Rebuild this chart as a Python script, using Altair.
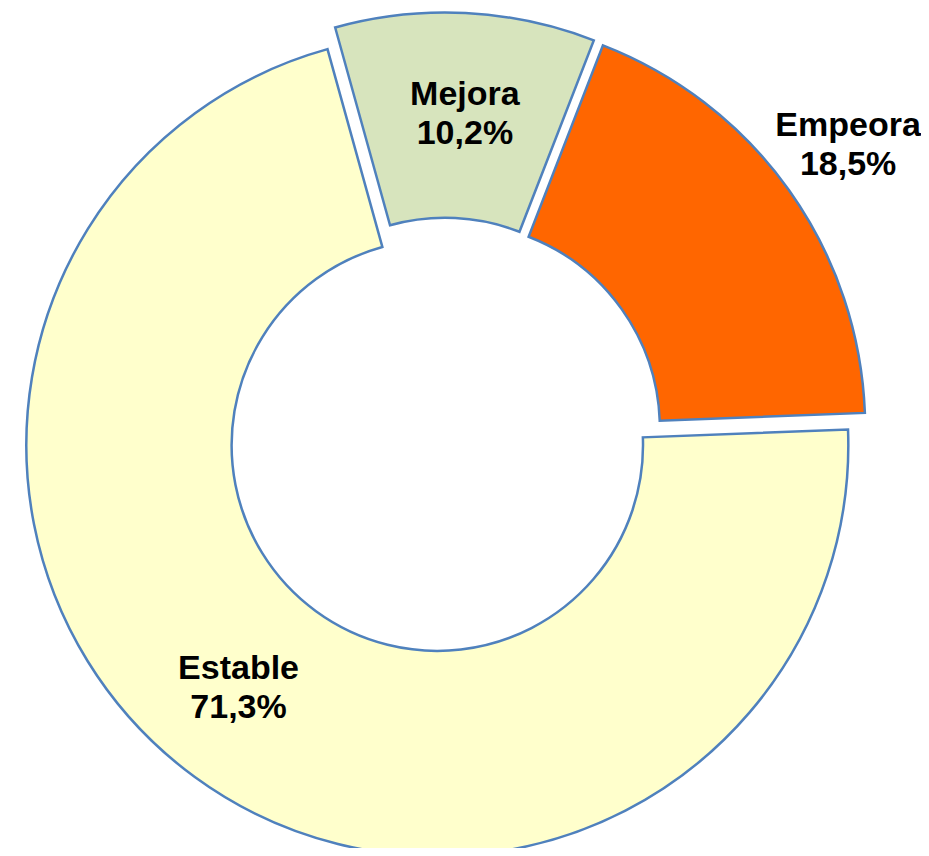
import math
import altair as alt
import pandas as pd

# ---- data ----
categories = ["Mejora", "Empeora", "Estable"]
values = [10.2, 18.5, 71.3]
order = [0, 1, 2]
colors = ["#D7E4BD", "#FF6600", "#FFFFCC"]

df = pd.DataFrame({"category": categories, "value": values, "order": order})

# ---- style / layout ----
W, H = 913, 840
CX, CY = 436.4, 427.5          # donut centre (chart px)
R_OUT, R_IN = 411, 205.7
EXPLODE = 12
START_DEG = -15.5
start_rad = math.radians(START_DEG) + 2 * math.pi
theta_scale = alt.Scale(domain=[0, 100], range=[start_rad, start_rad + 2 * math.pi])
# label placement: radius from centre, plus small nudges
label_style = {
    "Mejora": dict(radius=321, dx=4.5, dy=-19.5),
    "Empeora": dict(radius=497, dx=-1, dy=-21.5),
    "Estable": dict(radius=326, dx=-13.5, dy=-29.7),
}
STROKE = "#4F81BD"

base = (
    alt.Chart(df)
    .transform_window(end="sum(value)", sort=[alt.SortField("order")], frame=[None, 0])
    .transform_calculate(start="datum.end - datum.value")
    .transform_calculate(mid="(datum.start + datum.end) / 2")
    .transform_calculate(
        label="[datum.category, replace(format(datum.value, '.1f'), '.', ',') + '%']"
    )
)

layers = []
cum = 0.0
for cat, val, col in zip(categories, values, colors):
    mid_pct = cum + val / 2
    cum += val
    ang = math.radians(START_DEG + mid_pct * 3.6)
    dx = EXPLODE * math.sin(ang)
    dy = -EXPLODE * math.cos(ang)
    arc = (
        base.transform_filter(alt.datum.category == cat)
        .mark_arc(radius=R_OUT, radius2=R_IN, stroke=STROKE, strokeWidth=2.5, fill=col)
        .encode(
            theta=alt.Theta("start:Q", scale=theta_scale, stack=None),
            theta2="end:Q",
            x=alt.value(CX + dx),
            y=alt.value(CY + dy),
        )
    )
    layers.append(arc)

for cat in categories:
    st = label_style[cat]
    txt = (
        base.transform_filter(alt.datum.category == cat)
        .mark_text(
            radius=st["radius"],
            dx=st["dx"],
            dy=st["dy"],
            font="Liberation Sans",
            fontWeight="bold",
            fontSize=34,
            lineHeight=39,
            align="center",
            baseline="middle",
            color="black",
        )
        .encode(
            theta=alt.Theta("mid:Q", scale=theta_scale, stack=None),
            text="label:N",
            x=alt.value(CX),
            y=alt.value(CY),
        )
    )
    layers.append(txt)

chart = (
    alt.layer(*layers)
    .properties(width=W, height=H, padding=0, autosize=alt.AutoSizeParams(type="none"))
    .configure_view(stroke=None)
)

chart.save("out.html", embed_options={"renderer": "svg", "actions": False})
